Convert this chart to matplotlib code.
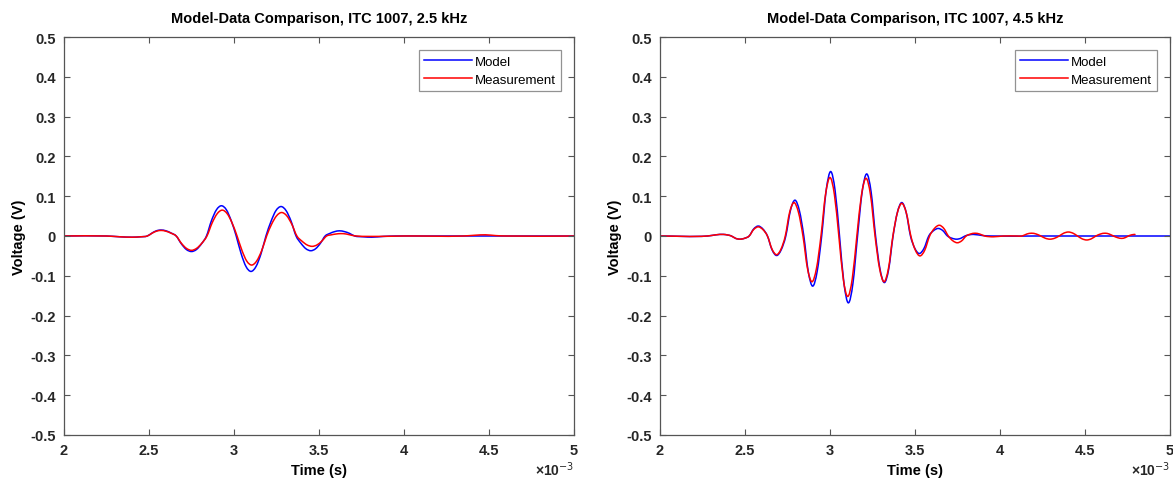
import matplotlib
matplotlib.use("Agg")
import matplotlib.pyplot as plt
from matplotlib.ticker import FuncFormatter
from matplotlib.path import Path
from matplotlib.patches import PathPatch
from matplotlib.lines import Line2D

plt.rcParams['font.family'] = ['Liberation Sans', 'DejaVu Sans']
plt.rcParams['axes.unicode_minus'] = False

# time in ms, voltage in V
t_model_25 = [2.0, 2.25, 2.33, 2.40, 2.45, 2.49, 2.518, 2.543, 2.571, 2.60, 2.63, 2.66,
              2.69, 2.72, 2.750, 2.779, 2.809, 2.838, 2.867, 2.897, 2.926, 2.955, 2.984, 3.013,
              3.042, 3.071, 3.100, 3.129, 3.159, 3.188, 3.218, 3.247, 3.277, 3.306, 3.336, 3.365,
              3.394, 3.423, 3.452, 3.480, 3.508, 3.536, 3.564, 3.592, 3.620, 3.650, 3.68, 3.71,
              3.76, 3.81, 3.88, 3.95, 4.1, 5.0]
v_model_25 = [0, 0, -0.002, -0.003, -0.002, 0, 0.0075, 0.013, 0.015, 0.013, 0.0075, 0,
              -0.0195, -0.034, -0.039, -0.034, -0.0195, 0, 0.038, 0.066, 0.076, 0.066, 0.038, 0,
              -0.0445, -0.077, -0.089, -0.077, -0.0445, 0, 0.037, 0.064, 0.074, 0.064, 0.037, 0,
              -0.0185, -0.032, -0.037, -0.032, -0.0185, 0, 0.0065, 0.011, 0.013, 0.011, 0.0065, 0,
              -0.002, -0.003, -0.001, 0, 0, 0]

t_meas_25 = [2.0, 2.25, 2.33, 2.40, 2.45, 2.49, 2.518, 2.543, 2.571, 2.60, 2.63, 2.66,
             2.69, 2.72, 2.750, 2.780, 2.811, 2.841, 2.871, 2.901, 2.931, 2.960, 2.989, 3.018,
             3.047, 3.075, 3.104, 3.133, 3.163, 3.192, 3.221, 3.251, 3.280, 3.310, 3.340, 3.370,
             3.400, 3.430, 3.460, 3.488, 3.516, 3.545, 3.573, 3.600, 3.628, 3.66, 3.69, 3.72,
             3.85, 4.0, 4.35, 4.42, 4.48, 4.54, 4.6, 5.0]
v_meas_25 = [0, 0, -0.002, -0.003, -0.002, 0, 0.007, 0.012, 0.014, 0.012, 0.007, 0,
             -0.018, -0.031, -0.036, -0.031, -0.018, 0, 0.0325, 0.056, 0.065, 0.056, 0.0325, 0,
             -0.0365, -0.063, -0.073, -0.063, -0.0365, 0, 0.0295, 0.051, 0.059, 0.051, 0.0295, 0,
             -0.013, -0.0225, -0.026, -0.0225, -0.013, 0, 0.003, 0.005, 0.006, 0.005, 0.002, 0,
             -0.001, 0, 0, 0.002, 0.003, 0.001, 0, 0]

t_model_45 = [2.0, 2.28, 2.33, 2.373, 2.42, 2.445, 2.471, 2.498, 2.5245, 2.551, 2.578,
              2.605, 2.632, 2.659, 2.686, 2.713, 2.740, 2.767, 2.794, 2.820, 2.846, 2.872, 2.898,
              2.9245, 2.951, 2.9775, 3.004, 3.030, 3.056, 3.082, 3.108, 3.135, 3.162, 3.189, 3.216,
              3.242, 3.268, 3.294, 3.320, 3.3455, 3.371, 3.3965, 3.422, 3.448, 3.4735, 3.499, 3.525,
              3.553, 3.581, 3.609, 3.637, 3.664, 3.691, 3.718, 3.745, 3.77, 3.794, 3.82, 3.843,
              3.9, 3.95, 4.2, 5.0]
v_model_45 = [0, 0, 0.003, 0.004, 0, -0.006, -0.008, -0.0057, 0, 0.0177, 0.025,
              0.0177, 0, -0.0346, -0.049, -0.0346, 0, 0.0636, 0.090, 0.0636, 0, -0.0891, -0.126,
              -0.0891, 0, 0.1145, 0.162, 0.1145, 0, -0.1188, -0.168, -0.1188, 0, 0.1103, 0.156,
              0.1103, 0, -0.0827, -0.117, -0.0827, 0, 0.0594, 0.084, 0.0594, 0, -0.0311, -0.044,
              -0.0311, 0, 0.0134, 0.019, 0.0134, 0, -0.0057, -0.008, -0.0057, 0, 0.003, 0.004,
              0.001, 0, 0, 0]

t_meas_45 = [2.0, 2.28, 2.33, 2.373, 2.42, 2.445, 2.471, 2.498, 2.5245, 2.551, 2.578,
             2.605, 2.632, 2.659, 2.686, 2.7115, 2.737, 2.7625, 2.788, 2.8145, 2.841, 2.8675, 2.894,
             2.9205, 2.947, 2.9735, 3.000, 3.026, 3.052, 3.078, 3.104, 3.131, 3.158, 3.185, 3.212,
             3.2385, 3.265, 3.2915, 3.318, 3.344, 3.370, 3.396, 3.422, 3.449, 3.4755, 3.502, 3.529,
             3.5575, 3.586, 3.6145, 3.643, 3.6695, 3.696, 3.7225, 3.749, 3.775, 3.801, 3.827, 3.853,
             3.88, 3.91, 3.935, 3.96, 4.02, 4.10, 4.13, 4.158, 4.186, 4.213, 4.24, 4.267, 4.294,
             4.321, 4.348, 4.375, 4.402, 4.429, 4.456, 4.483, 4.51, 4.537, 4.564, 4.591, 4.618,
             4.642, 4.667, 4.692, 4.716, 4.736, 4.755, 4.775, 4.794]
v_meas_45 = [0, 0, 0.003, 0.004, 0, -0.006, -0.008, -0.0057, 0, 0.0163, 0.023,
             0.0163, 0, -0.0332, -0.047, -0.0332, 0, 0.0594, 0.084, 0.0594, 0, -0.0813, -0.115,
             -0.0813, 0, 0.1039, 0.147, 0.1039, 0, -0.1075, -0.152, -0.1075, 0, 0.1025, 0.145,
             0.1025, 0, -0.0813, -0.115, -0.0813, 0, 0.058, 0.082, 0.058, 0, -0.0354, -0.050,
             -0.0354, 0, 0.0191, 0.027, 0.0191, 0, -0.012, -0.017, -0.012, 0, 0.005, 0.007,
             0.005, 0, -0.0015, -0.002, 0, 0, 0, 0.005, 0.007, 0.005, 0, -0.0057, -0.008,
             -0.0057, 0, 0.0071, 0.010, 0.0071, 0, -0.0071, -0.010, -0.0071, 0, 0.005, 0.007,
             0.005, 0, -0.0042, -0.006, -0.0042, 0, 0.003, 0.004]

titles = ['Model-Data Comparison, ITC 1007, 2.5 kHz',
          'Model-Data Comparison, ITC 1007, 4.5 kHz']
x_ticks = [2, 2.5, 3, 3.5, 4, 4.5, 5]
y_ticks = [-0.5, -0.4, -0.3, -0.2, -0.1, 0, 0.1, 0.2, 0.3, 0.4, 0.5]


def smooth_trace(ax, xs, ys, color):
    # draw a smooth curve through the points with bezier segments (hermite tangents)
    n = len(xs)
    slopes = []
    for i in range(n):
        if i == 0:
            m = (ys[1] - ys[0]) / (xs[1] - xs[0])
        elif i == n - 1:
            m = (ys[-1] - ys[-2]) / (xs[-1] - xs[-2])
        else:
            m1 = (ys[i] - ys[i - 1]) / (xs[i] - xs[i - 1])
            m2 = (ys[i + 1] - ys[i]) / (xs[i + 1] - xs[i])
            m = 0.5 * (m1 + m2)
        slopes.append(m)
    verts = [(xs[0], ys[0])]
    codes = [Path.MOVETO]
    for i in range(n - 1):
        h = xs[i + 1] - xs[i]
        verts += [(xs[i] + h / 3, ys[i] + slopes[i] * h / 3),
                  (xs[i + 1] - h / 3, ys[i + 1] - slopes[i + 1] * h / 3),
                  (xs[i + 1], ys[i + 1])]
        codes += [Path.CURVE4] * 3
    ax.add_patch(PathPatch(Path(verts, codes), fill=False, edgecolor=color, lw=1.1,
                           capstyle='round', joinstyle='round'))


fig = plt.figure(figsize=(11.73, 4.85), dpi=100)
W, H = 1173.0, 485.0
ax1 = fig.add_axes([64 / W, (H - 436) / H, 510 / W, 398 / H])
ax2 = fig.add_axes([660 / W, (H - 436) / H, 510 / W, 398 / H])

series = [(t_model_25, v_model_25, t_meas_25, v_meas_25),
          (t_model_45, v_model_45, t_meas_45, v_meas_45)]

for ax, (tm, vm, tr, vr), title in zip([ax1, ax2], series, titles):
    smooth_trace(ax, [t * 1e-3 for t in tm], vm, '#0000ff')
    smooth_trace(ax, [t * 1e-3 for t in tr], vr, '#ff0000')
    ax.set_xlim(2e-3, 5e-3)
    ax.set_ylim(-0.5, 0.5)
    ax.set_xticks([x * 1e-3 for x in x_ticks])
    ax.set_yticks(y_ticks)
    ax.xaxis.set_major_formatter(FuncFormatter(lambda x, p: '%g' % round(x * 1e3, 3)))
    ax.yaxis.set_major_formatter(FuncFormatter(lambda y, p: '%g' % round(y, 3)))
    ax.tick_params(direction='in', top=True, right=True, length=4, width=0.8,
                   color='#555555', labelsize=10.5, pad=6)
    for lab in ax.get_xticklabels() + ax.get_yticklabels():
        lab.set_fontweight('bold')
        lab.set_color('#262626')
    for s in ax.spines.values():
        s.set_color('#555555')
        s.set_linewidth(0.9)
    ax.set_title(title, fontsize=10.5, fontweight='bold', pad=11)
    ax.set_xlabel('Time (s)', fontsize=10.5, fontweight='bold', labelpad=4)
    ax.set_ylabel('Voltage (V)', fontsize=10.5, fontweight='bold', labelpad=3)
    ax.text(1.0, -0.1, '\u00d710$^{-3}$', transform=ax.transAxes, ha='right',
            va='baseline', fontsize=10, fontweight='bold', color='#262626')
    handles = [Line2D([], [], color='#0000ff', lw=1.1),
               Line2D([], [], color='#ff0000', lw=1.1)]
    leg = ax.legend(handles, ['Model', 'Measurement'], loc='upper right', fontsize=9.5,
                    frameon=True, fancybox=False, borderaxespad=1.0, handlelength=3.6,
                    handletextpad=0.2, labelspacing=0.45, borderpad=0.4)
    leg.get_frame().set_edgecolor('#777777')
    leg.get_frame().set_linewidth(0.9)

fig.savefig('out.png', dpi=100)
